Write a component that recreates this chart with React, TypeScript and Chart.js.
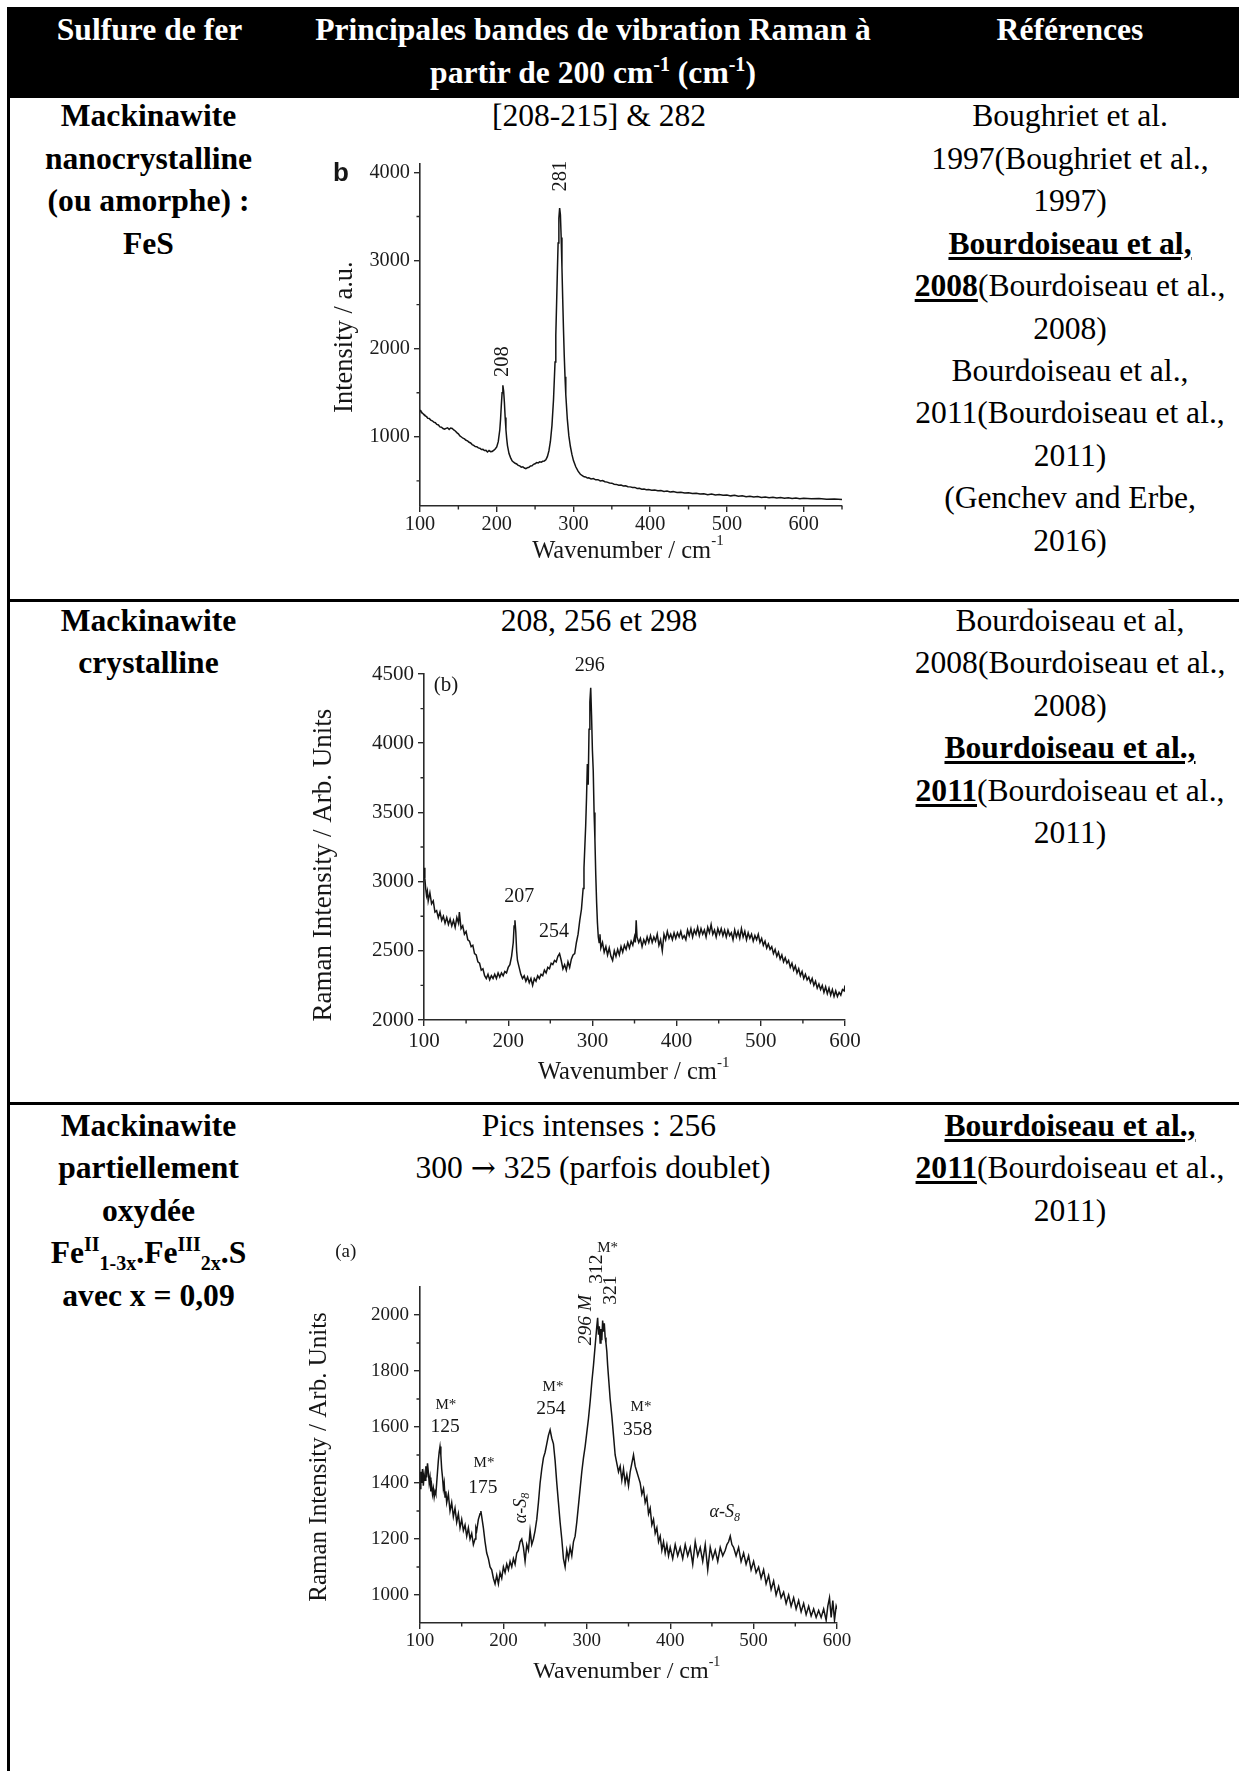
import React, { useEffect, useRef } from "react";
import { Chart, registerables } from "chart.js";

Chart.register(...registerables);

type Pt = [number, number];
type Part = { t: string; size: number; italic?: boolean; bold?: boolean; dy?: number; family?: string };
type Note = { x: number; y: number; parts: Part[]; rot?: boolean };

const SERIF = '"Liberation Serif", "Times New Roman", serif';
const SANS = '"Liberation Sans", Arial, sans-serif';

// ---------- Chart 1 : nanocrystalline mackinawite ----------
const spec1Data: Pt[] = [
  [100, 1305], [101, 1290], [102, 1282], [103, 1270], [104, 1262], [105, 1252], [106, 1248], [107, 1238],
  [108, 1232], [109, 1222], [110, 1212], [112, 1208], [114, 1190], [116, 1182], [118, 1166], [120, 1160],
  [122, 1140], [124, 1134], [126, 1112], [128, 1108], [130, 1094], [132, 1086], [134, 1096], [136, 1102],
  [138, 1084], [140, 1100], [142, 1094], [144, 1078], [146, 1066], [148, 1048], [150, 1034], [152, 1010],
  [154, 998], [156, 984], [158, 976], [160, 960], [162, 954], [164, 938], [166, 930], [168, 912],
  [170, 902], [172, 890], [174, 888], [176, 874], [178, 870], [180, 856], [182, 858], [184, 844],
  [186, 846], [188, 828], [190, 844], [192, 832], [194, 834], [196, 846], [198, 862], [200, 885],
  [202, 945], [204, 1080], [205, 1200], [206, 1360], [207, 1500], [208, 1585], [209, 1520], [210, 1390],
  [211, 1220], [212, 1080], [213, 980], [214, 900], [216, 810], [218, 764], [220, 728], [222, 712],
  [224, 700], [226, 692], [228, 676], [230, 670], [232, 656], [234, 660], [236, 646], [238, 638],
  [240, 650], [242, 654], [244, 670], [246, 672], [248, 688], [250, 694], [252, 708], [254, 704],
  [256, 716], [258, 712], [260, 722], [262, 726], [264, 740], [266, 775], [268, 840], [270, 950],
  [272, 1130], [274, 1420], [276, 1850], [277, 2150], [278, 2500], [279, 2860], [280, 3200], [281, 3480],
  [282, 3595], [283, 3520], [284, 3260], [285, 2920], [286, 2560], [287, 2220], [288, 1920], [289, 1680],
  [290, 1480], [292, 1200], [294, 1010], [296, 890], [298, 800], [300, 730], [303, 660], [306, 610],
  [309, 575], [312, 558], [314, 546], [316, 544], [318, 532], [320, 534], [323, 522], [326, 526],
  [329, 512], [332, 514], [335, 500], [338, 504], [341, 490], [344, 486], [347, 476], [350, 474],
  [353, 462], [356, 460], [359, 450], [362, 452], [365, 442], [368, 444], [371, 434], [374, 432],
  [377, 424], [380, 426], [383, 414], [386, 416], [389, 406], [392, 408], [395, 400], [398, 402],
  [402, 394], [406, 396], [410, 388], [414, 390], [418, 380], [422, 384], [426, 374], [430, 378],
  [435, 368], [440, 372], [445, 362], [450, 366], [455, 356], [460, 360], [465, 350], [470, 354],
  [475, 344], [480, 350], [485, 340], [490, 346], [495, 336], [500, 340], [505, 330], [510, 336],
  [515, 326], [520, 330], [525, 320], [530, 326], [535, 316], [540, 322], [545, 312], [550, 318],
  [555, 310], [560, 314], [565, 306], [570, 312], [575, 304], [580, 308], [585, 300], [590, 306],
  [595, 298], [600, 304], [610, 298], [620, 300], [630, 292], [640, 294], [650, 290],
];
const x1Major = [100, 200, 300, 400, 500, 600];
const x1Minor = [150, 250, 350, 450, 550, 650];
const y1Major = [1000, 2000, 3000, 4000];
const y1Minor = [500, 1500, 2500, 3500];
const notes1: Note[] = [
  { x: -3, y: 3985, parts: [{ t: "b", size: 26, bold: true, family: SANS }] },
  { x: 283.7, y: 3957, rot: true, parts: [{ t: "281", size: 20.5 }] },
  { x: 208.1, y: 1853, rot: true, parts: [{ t: "208", size: 20.5 }] },
  { x: 2.9, y: 2131, rot: true, parts: [{ t: "Intensity / a.u.", size: 26.5 }] },
  { x: 371, y: -297, parts: [{ t: "Wavenumber / cm", size: 24.5 }, { t: "-1", size: 15, dy: -10 }] },
];

// ---------- Chart 2 : crystalline mackinawite ----------
const spec2Data: Pt[] = [
  [100, 3100], [101, 3020], [102, 2950], [103, 2900], [104, 2930], [105, 2860], [107, 2920], [109, 2840],
  [111, 2860], [113, 2780], [115, 2790], [117, 2740], [119, 2780], [121, 2720], [123, 2750], [125, 2700],
  [127, 2740], [129, 2690], [131, 2730], [133, 2680], [135, 2720], [137, 2670], [139, 2740], [141, 2700],
  [142, 2780], [144, 2660], [146, 2680], [148, 2620], [150, 2640], [152, 2580], [154, 2570], [156, 2530],
  [158, 2540], [160, 2480], [162, 2470], [164, 2420], [166, 2410], [168, 2360], [170, 2370], [172, 2320],
  [174, 2300], [176, 2330], [178, 2290], [180, 2320], [182, 2300], [184, 2330], [186, 2300], [188, 2340],
  [190, 2310], [192, 2340], [194, 2320], [196, 2350], [198, 2340], [200, 2380], [202, 2400], [204, 2460],
  [206, 2560], [207, 2680], [208, 2720], [209, 2640], [210, 2500], [211, 2430], [213, 2380], [215, 2330],
  [217, 2300], [219, 2320], [221, 2280], [223, 2310], [225, 2270], [227, 2300], [229, 2250], [231, 2300],
  [233, 2280], [235, 2320], [237, 2300], [239, 2330], [241, 2320], [243, 2360], [245, 2340], [247, 2380],
  [249, 2370], [251, 2410], [253, 2400], [255, 2430], [257, 2420], [259, 2460], [261, 2480], [263, 2430],
  [265, 2370], [267, 2400], [269, 2360], [271, 2420], [273, 2380], [275, 2440], [277, 2470], [279, 2480],
  [281, 2560], [283, 2620], [285, 2720], [287, 2800], [289, 2950], [290, 3100], [291, 3250], [292, 3400],
  [293, 3600], [294, 3850], [295, 3700], [296, 4100], [297, 4300], [298, 4400], [299, 4200], [300, 3950],
  [301, 3800], [302, 3500], [303, 3300], [304, 3050], [305, 2850], [306, 2700], [307, 2600], [308, 2560],
  [309, 2620], [310, 2520], [312, 2560], [314, 2490], [316, 2530], [318, 2470], [320, 2520], [322, 2460],
  [324, 2430], [326, 2500], [328, 2460], [330, 2510], [332, 2470], [334, 2530], [336, 2490], [338, 2540],
  [340, 2510], [342, 2560], [344, 2520], [346, 2570], [348, 2540], [350, 2600], [351, 2560], [352, 2720],
  [353, 2600], [355, 2560], [357, 2590], [359, 2530], [361, 2580], [363, 2550], [365, 2600], [367, 2560],
  [369, 2610], [371, 2560], [373, 2600], [375, 2570], [377, 2620], [379, 2540], [381, 2580], [383, 2500],
  [385, 2620], [387, 2580], [389, 2640], [391, 2590], [393, 2620], [395, 2580], [397, 2630], [399, 2590],
  [401, 2630], [403, 2600], [405, 2640], [407, 2590], [409, 2610], [411, 2580], [413, 2650], [415, 2610],
  [417, 2660], [419, 2600], [421, 2650], [423, 2620], [425, 2670], [427, 2610], [429, 2660], [431, 2620],
  [433, 2650], [435, 2600], [437, 2670], [439, 2630], [441, 2690], [443, 2620], [445, 2650], [447, 2600],
  [449, 2660], [451, 2620], [453, 2660], [455, 2610], [457, 2650], [459, 2600], [461, 2650], [463, 2610],
  [465, 2630], [467, 2580], [469, 2650], [471, 2600], [473, 2640], [475, 2590], [477, 2660], [479, 2600],
  [481, 2640], [483, 2580], [485, 2630], [487, 2590], [489, 2620], [491, 2570], [493, 2610], [495, 2580],
  [497, 2620], [499, 2560], [501, 2590], [503, 2540], [505, 2570], [507, 2520], [509, 2550], [511, 2510],
  [513, 2530], [515, 2480], [517, 2510], [519, 2460], [521, 2490], [523, 2440], [525, 2470], [527, 2420],
  [529, 2450], [531, 2410], [533, 2430], [535, 2380], [537, 2410], [539, 2360], [541, 2390], [543, 2340],
  [545, 2370], [547, 2320], [549, 2350], [551, 2300], [553, 2330], [555, 2290], [557, 2310], [559, 2270],
  [561, 2300], [563, 2250], [565, 2280], [567, 2230], [569, 2260], [571, 2220], [573, 2250], [575, 2200],
  [577, 2240], [579, 2190], [581, 2230], [583, 2180], [585, 2220], [587, 2170], [589, 2210], [591, 2170],
  [593, 2200], [595, 2180], [597, 2220], [599, 2210], [600, 2250],
];
const x2Major = [100, 200, 300, 400, 500, 600];
const x2Minor = [150, 250, 350, 450, 550];
const y2Major = [2000, 2500, 3000, 3500, 4000, 4500];
const y2Minor = [2250, 2750, 3250, 3750, 4250];
const notes2: Note[] = [
  { x: 126, y: 4420, parts: [{ t: "(b)", size: 21 }] },
  { x: 297, y: 4562, parts: [{ t: "296", size: 20 }] },
  { x: 213, y: 2893, parts: [{ t: "207", size: 20 }] },
  { x: 254.4, y: 2638, parts: [{ t: "254", size: 20 }] },
  { x: -18.8, y: 3119, rot: true, parts: [{ t: "Raman Intensity / Arb. Units", size: 27 }] },
  { x: 349, y: 1620, parts: [{ t: "Wavenumber / cm", size: 24.5 }, { t: "-1", size: 15, dy: -10 }] },
];

// ---------- Chart 3 : partially oxidised mackinawite ----------
const spec3Data: Pt[] = [
  [100, 1380], [101, 1440], [102, 1400], [103, 1450], [104, 1390], [105, 1430], [106, 1410], [107, 1460],
  [108, 1420], [109, 1470], [110, 1440], [111, 1400], [112, 1420], [113, 1370], [114, 1390], [115, 1360],
  [116, 1380], [117, 1350], [118, 1370], [119, 1360], [120, 1400], [121, 1440], [122, 1480], [123, 1510],
  [124, 1530], [125, 1500], [126, 1450], [127, 1420], [128, 1380], [129, 1400], [130, 1350], [131, 1370],
  [132, 1330], [134, 1360], [136, 1300], [138, 1330], [140, 1280], [142, 1310], [144, 1260], [146, 1290],
  [148, 1240], [150, 1270], [152, 1230], [154, 1250], [156, 1210], [158, 1240], [160, 1200], [162, 1220],
  [164, 1180], [166, 1200], [167, 1240], [168, 1230], [170, 1270], [172, 1290], [173, 1300], [174, 1280],
  [176, 1240], [178, 1190], [180, 1150], [182, 1130], [184, 1100], [186, 1090], [188, 1060], [190, 1040],
  [192, 1070], [194, 1040], [196, 1080], [198, 1060], [200, 1100], [202, 1080], [204, 1110], [206, 1090],
  [208, 1120], [210, 1100], [212, 1130], [214, 1110], [216, 1150], [218, 1160], [220, 1190], [222, 1200],
  [224, 1170], [226, 1120], [228, 1180], [230, 1160], [232, 1230], [234, 1180], [236, 1200], [238, 1230],
  [240, 1270], [242, 1330], [244, 1400], [246, 1450], [248, 1490], [250, 1510], [252, 1540], [254, 1570],
  [256, 1590], [258, 1560], [260, 1540], [262, 1480], [264, 1400], [266, 1330], [268, 1260], [270, 1200],
  [272, 1130], [274, 1100], [276, 1160], [278, 1130], [280, 1170], [282, 1140], [284, 1190], [286, 1210],
  [288, 1260], [290, 1320], [292, 1380], [294, 1440], [296, 1490], [298, 1530], [300, 1580], [302, 1630],
  [304, 1690], [306, 1760], [308, 1820], [310, 1890], [312, 1960], [313, 1990], [314, 1930], [315, 1960],
  [316, 1900], [317, 1950], [318, 1910], [319, 1980], [320, 1940], [321, 1970], [322, 1920], [323, 1900],
  [324, 1870], [325, 1820], [326, 1780], [327, 1740], [328, 1700], [330, 1640], [332, 1570], [334, 1500],
  [336, 1470], [338, 1440], [340, 1460], [342, 1410], [344, 1450], [346, 1400], [348, 1430], [350, 1390],
  [352, 1440], [354, 1470], [356, 1500], [358, 1460], [360, 1440], [362, 1420], [364, 1400], [366, 1360],
  [368, 1380], [370, 1330], [372, 1350], [374, 1290], [376, 1310], [378, 1250], [380, 1270], [382, 1220],
  [384, 1240], [386, 1190], [388, 1210], [390, 1160], [392, 1190], [394, 1150], [396, 1180], [398, 1140],
  [400, 1170], [403, 1130], [406, 1180], [409, 1140], [412, 1170], [415, 1130], [418, 1180], [421, 1140],
  [424, 1170], [427, 1110], [430, 1190], [433, 1140], [436, 1170], [439, 1120], [442, 1180], [445, 1090],
  [448, 1170], [451, 1130], [454, 1160], [457, 1120], [460, 1170], [463, 1140], [466, 1160], [468, 1180],
  [470, 1190], [472, 1210], [474, 1180], [476, 1170], [479, 1140], [482, 1170], [485, 1120], [488, 1150],
  [491, 1110], [494, 1140], [497, 1090], [500, 1120], [503, 1080], [506, 1100], [509, 1060], [512, 1090],
  [515, 1040], [518, 1070], [521, 1020], [524, 1050], [527, 1000], [530, 1030], [533, 990], [536, 1010],
  [539, 970], [542, 1000], [545, 960], [548, 990], [551, 950], [554, 980], [557, 940], [560, 970],
  [563, 930], [566, 960], [569, 925], [572, 950], [575, 920], [578, 945], [581, 920], [584, 950],
  [587, 910], [589, 960], [591, 990], [593, 920], [595, 980], [597, 910], [599, 960], [600, 950],
];
const x3Major = [100, 200, 300, 400, 500, 600];
const x3Minor = [150, 250, 350, 450, 550];
const y3Major = [1000, 1200, 1400, 1600, 1800, 2000];
const y3Minor = [1100, 1300, 1500, 1700, 1900];
const notes3: Note[] = [
  { x: 11, y: 2225, parts: [{ t: "(a)", size: 19 }] },
  { x: 131, y: 1679, parts: [{ t: "M*", size: 15 }] },
  { x: 130, y: 1600, parts: [{ t: "125", size: 19.5 }] },
  { x: 176.7, y: 1471, parts: [{ t: "M*", size: 15 }] },
  { x: 175.5, y: 1382, parts: [{ t: "175", size: 19.5 }] },
  { x: 221, y: 1311, rot: true, parts: [{ t: "α-S", size: 18, italic: true }, { t: "8", size: 12, italic: true, dy: 5 }] },
  { x: 259.5, y: 1743, parts: [{ t: "M*", size: 15 }] },
  { x: 257, y: 1664, parts: [{ t: "254", size: 19.5 }] },
  { x: 298.7, y: 1982, rot: true, parts: [{ t: "296 ", size: 19.5, italic: true }, { t: "M", size: 19.5, italic: true }] },
  { x: 312, y: 2164, rot: true, parts: [{ t: "312", size: 19.5 }] },
  { x: 329, y: 2089, rot: true, parts: [{ t: "321", size: 19.5 }] },
  { x: 325, y: 2239, parts: [{ t: "M*", size: 15 }] },
  { x: 365, y: 1671, parts: [{ t: "M*", size: 15 }] },
  { x: 360.8, y: 1589, parts: [{ t: "358", size: 19.5 }] },
  { x: 465.5, y: 1295, parts: [{ t: "α-S", size: 18, italic: true }, { t: "8", size: 12, italic: true, dy: 5 }] },
  { x: -20, y: 1493, rot: true, parts: [{ t: "Raman Intensity / Arb. Units", size: 25 }] },
  { x: 348, y: 725, parts: [{ t: "Wavenumber / cm", size: 24 }, { t: "-1", size: 14, dy: -10 }] },
];

type Spec = {
  data: Pt[];
  xr: [number, number];
  yr: [number, number];
  xMajor: number[];
  xMinor: number[];
  yMajor: number[];
  yMinor: number[];
  notes: Note[];
  canvas: { l: number; t: number; w: number; h: number };
  plot: { l: number; t: number; r: number; b: number };
  tickSize: number;
  xPad: number;
  yPad: number;
};

const specs: Spec[] = [
  {
    data: spec1Data, xr: [100, 650], yr: [215, 4095], xMajor: x1Major, xMinor: x1Minor, yMajor: y1Major, yMinor: y1Minor,
    notes: notes1, canvas: { l: 310, t: 140, w: 560, h: 435 }, plot: { l: 420, t: 164, r: 842, b: 506 },
    tickSize: 20.3, xPad: 0, yPad: 4,
  },
  {
    data: spec2Data, xr: [100, 600], yr: [2000, 4500], xMajor: x2Major, xMinor: x2Minor, yMajor: y2Major, yMinor: y2Minor,
    notes: notes2, canvas: { l: 290, t: 640, w: 590, h: 450 }, plot: { l: 424, t: 674, r: 845, b: 1020 },
    tickSize: 21, xPad: 3, yPad: 4,
  },
  {
    data: spec3Data, xr: [100, 600], yr: [900, 2100], xMajor: x3Major, xMinor: x3Minor, yMajor: y3Major, yMinor: y3Minor,
    notes: notes3, canvas: { l: 290, t: 1225, w: 585, h: 480 }, plot: { l: 420, t: 1287, r: 837, b: 1623 },
    tickSize: 19, xPad: 1, yPad: 5,
  },
];

function drawNote(ctx: CanvasRenderingContext2D, px: number, py: number, note: Note) {
  const fontOf = (p: Part) =>
    `${p.italic ? "italic " : ""}${p.bold ? "bold " : ""}${p.size}px ${p.family || SERIF}`;
  ctx.save();
  ctx.translate(px, py);
  if (note.rot) ctx.rotate(-Math.PI / 2);
  let total = 0;
  for (const p of note.parts) {
    ctx.font = fontOf(p);
    total += ctx.measureText(p.t).width;
  }
  let x = -total / 2;
  ctx.textBaseline = "middle";
  ctx.textAlign = "left";
  ctx.fillStyle = "#161616";
  for (const p of note.parts) {
    ctx.font = fontOf(p);
    ctx.fillText(p.t, x, p.dy || 0);
    x += ctx.measureText(p.t).width;
  }
  ctx.restore();
}

function buildConfig(spec: Spec): any {
  const yW = spec.plot.l - spec.canvas.l;
  const xH = spec.canvas.t + spec.canvas.h - spec.plot.b;
  const axisColor = "#2a2a2a";
  const tickFont = { family: SERIF, size: spec.tickSize };
  const extras = {
    id: "extras",
    afterDraw(chart: any) {
      const ctx: CanvasRenderingContext2D = chart.ctx;
      const xs = chart.scales.x;
      const ys = chart.scales.y;
      const a = chart.chartArea;
      ctx.save();
      ctx.strokeStyle = axisColor;
      ctx.lineWidth = 1.4;
      ctx.beginPath();
      for (const v of spec.xMinor) {
        const px = xs.getPixelForValue(v);
        ctx.moveTo(px, a.bottom);
        ctx.lineTo(px, a.bottom + 3.5);
      }
      for (const v of spec.yMinor) {
        const py = ys.getPixelForValue(v);
        ctx.moveTo(a.left - 3.5, py);
        ctx.lineTo(a.left, py);
      }
      ctx.stroke();
      ctx.restore();
      for (const n of spec.notes) {
        drawNote(ctx, xs.getPixelForValue(n.x), ys.getPixelForValue(n.y), n);
      }
    },
  };
  return {
    type: "line",
    data: {
      datasets: [
        {
          data: spec.data.map(([x, y]) => ({ x, y })),
          borderColor: "#141414",
          borderWidth: 1.5,
          pointRadius: 0,
          tension: 0,
          fill: false,
        },
      ],
    },
    options: {
      animation: false,
      responsive: false,
      devicePixelRatio: 1,
      events: [],
      layout: {
        padding: {
          left: 0,
          bottom: 0,
          top: spec.plot.t - spec.canvas.t,
          right: spec.canvas.l + spec.canvas.w - spec.plot.r,
        },
      },
      plugins: { legend: { display: false }, tooltip: { enabled: false }, title: { display: false } },
      scales: {
        x: {
          type: "linear",
          min: spec.xr[0],
          max: spec.xr[1],
          afterFit: (s: any) => {
            s.height = xH;
          },
          afterBuildTicks: (s: any) => {
            s.ticks = spec.xMajor.map((v) => ({ value: v }));
          },
          ticks: {
            callback: (v: any) => String(v),
            font: tickFont,
            color: "#1c1c1c",
            padding: spec.xPad,
            maxRotation: 0,
            autoSkip: false,
          },
          grid: { display: true, drawOnChartArea: false, drawTicks: true, tickLength: 6, color: axisColor, lineWidth: 1.4 },
          border: { display: true, color: axisColor, width: 1.6 },
        },
        y: {
          type: "linear",
          min: spec.yr[0],
          max: spec.yr[1],
          afterFit: (s: any) => {
            s.width = yW;
          },
          afterBuildTicks: (s: any) => {
            s.ticks = spec.yMajor.map((v) => ({ value: v }));
          },
          ticks: {
            callback: (v: any) => String(v),
            font: tickFont,
            color: "#1c1c1c",
            padding: spec.yPad,
            autoSkip: false,
          },
          grid: { display: true, drawOnChartArea: false, drawTicks: true, tickLength: 6, color: axisColor, lineWidth: 1.4 },
          border: { display: true, color: axisColor, width: 1.6 },
        },
      },
    },
    plugins: [extras],
  };
}

function Spectrum({ spec }: { spec: Spec }) {
  const ref = useRef<HTMLCanvasElement>(null);
  useEffect(() => {
    const c = ref.current;
    if (!c) return;
    const chart = new Chart(c, buildConfig(spec));
    return () => chart.destroy();
  }, [spec]);
  const { canvas } = spec;
  return (
    <canvas
      ref={ref}
      width={canvas.w}
      height={canvas.h}
      style={{ position: "absolute", left: canvas.l, top: canvas.t, width: canvas.w, height: canvas.h }}
    />
  );
}

const FS = 31.6;
const LH = 42;
const STEP = 42.45;

function TLine({ cx, base, children, bold, color }: { cx: number; base: number; children: React.ReactNode; bold?: boolean; color?: string }) {
  return (
    <div
      style={{
        position: "absolute",
        left: cx - 400,
        width: 800,
        top: base - 31.7,
        height: LH,
        lineHeight: LH + "px",
        fontSize: FS,
        fontFamily: SERIF,
        fontWeight: bold ? 700 : 400,
        textAlign: "center",
        whiteSpace: "pre",
        color: color || "#000",
      }}
    >
      {children}
    </div>
  );
}

const UL: React.CSSProperties = {
  fontWeight: 700,
  textDecoration: "underline",
  textDecorationThickness: "3px",
  textUnderlineOffset: "3px",
};
const SUP: React.CSSProperties = { fontSize: 20, verticalAlign: "super", lineHeight: 0 };
const SUB: React.CSSProperties = { fontSize: 20, verticalAlign: "sub", lineHeight: 0 };
const ARROW: React.CSSProperties = { fontFamily: '"DejaVu Serif", serif', fontSize: 30 };

const C1 = 148.5;
const C2 = 599;
const C3 = 1070;
const R1 = 127;
const R2 = 631.7;
const R3 = 1136.5;

export default function App() {
  return (
    <div
      style={{
        position: "absolute",
        left: 0,
        top: 0,
        width: 1239,
        height: 1771,
        background: "#fff",
        overflow: "hidden",
      }}
    >
      {/* header */}
      <div style={{ position: "absolute", left: 7, top: 7, width: 1232, height: 91, background: "#000" }} />
      <TLine cx={149.5} base={41} bold color="#fff">Sulfure de fer</TLine>
      <TLine cx={593} base={41} bold color="#fff">Principales bandes de vibration Raman à</TLine>
      <TLine cx={593} base={84} bold color="#fff">
        partir de 200 cm<span style={SUP}>-1</span> (cm<span style={SUP}>-1</span>)
      </TLine>
      <TLine cx={1070} base={41} bold color="#fff">Références</TLine>

      {/* borders */}
      <div style={{ position: "absolute", left: 7, top: 98, width: 3, height: 1673, background: "#000" }} />
      <div style={{ position: "absolute", left: 7, top: 599, width: 1232, height: 3, background: "#000" }} />
      <div style={{ position: "absolute", left: 7, top: 1102, width: 1232, height: 3, background: "#000" }} />

      {/* row 1 */}
      <TLine cx={C1} base={R1} bold>Mackinawite</TLine>
      <TLine cx={C1} base={R1 + STEP} bold>nanocrystalline</TLine>
      <TLine cx={C1} base={R1 + 2 * STEP} bold>(ou amorphe) :</TLine>
      <TLine cx={C1} base={R1 + 3 * STEP} bold>FeS</TLine>
      <TLine cx={C2} base={R1}>{"[208-215] & 282"}</TLine>
      <TLine cx={C3} base={R1}>Boughriet et al.</TLine>
      <TLine cx={C3} base={R1 + STEP}>1997(Boughriet et al.,</TLine>
      <TLine cx={C3} base={R1 + 2 * STEP}>1997)</TLine>
      <TLine cx={C3} base={R1 + 3 * STEP}><span style={UL}>Bourdoiseau et al,</span></TLine>
      <TLine cx={C3} base={R1 + 4 * STEP}><span style={UL}>2008</span>(Bourdoiseau et al.,</TLine>
      <TLine cx={C3} base={R1 + 5 * STEP}>2008)</TLine>
      <TLine cx={C3} base={R1 + 6 * STEP}>Bourdoiseau et al.,</TLine>
      <TLine cx={C3} base={R1 + 7 * STEP}>2011(Bourdoiseau et al.,</TLine>
      <TLine cx={C3} base={R1 + 8 * STEP}>2011)</TLine>
      <TLine cx={C3} base={R1 + 9 * STEP}>(Genchev and Erbe,</TLine>
      <TLine cx={C3} base={R1 + 10 * STEP}>2016)</TLine>

      {/* row 2 */}
      <TLine cx={C1} base={R2} bold>Mackinawite</TLine>
      <TLine cx={C1} base={R2 + STEP} bold>crystalline</TLine>
      <TLine cx={C2} base={R2}>208, 256 et 298</TLine>
      <TLine cx={C3} base={R2}>Bourdoiseau et al,</TLine>
      <TLine cx={C3} base={R2 + STEP}>2008(Bourdoiseau et al.,</TLine>
      <TLine cx={C3} base={R2 + 2 * STEP}>2008)</TLine>
      <TLine cx={C3} base={R2 + 3 * STEP}><span style={UL}>Bourdoiseau et al.,</span></TLine>
      <TLine cx={C3} base={R2 + 4 * STEP}><span style={UL}>2011</span>(Bourdoiseau et al.,</TLine>
      <TLine cx={C3} base={R2 + 5 * STEP}>2011)</TLine>

      {/* row 3 */}
      <TLine cx={C1} base={R3} bold>Mackinawite</TLine>
      <TLine cx={C1} base={R3 + STEP} bold>partiellement</TLine>
      <TLine cx={C1} base={R3 + 2 * STEP} bold>oxydée</TLine>
      <TLine cx={C1} base={R3 + 3 * STEP} bold>
        Fe<span style={SUP}>II</span><span style={SUB}>1-3x</span>.Fe<span style={SUP}>III</span><span style={SUB}>2x</span>.S
      </TLine>
      <TLine cx={C1} base={R3 + 4 * STEP} bold>avec x = 0,09</TLine>
      <TLine cx={C2} base={R3}>Pics intenses : 256</TLine>
      <TLine cx={593} base={R3 + STEP}>300 <span style={ARROW}>→</span> 325 (parfois doublet)</TLine>
      <TLine cx={C3} base={R3}><span style={UL}>Bourdoiseau et al.,</span></TLine>
      <TLine cx={C3} base={R3 + STEP}><span style={UL}>2011</span>(Bourdoiseau et al.,</TLine>
      <TLine cx={C3} base={R3 + 2 * STEP}>2011)</TLine>

      {specs.map((s, i) => (
        <Spectrum key={i} spec={s} />
      ))}
    </div>
  );
}
